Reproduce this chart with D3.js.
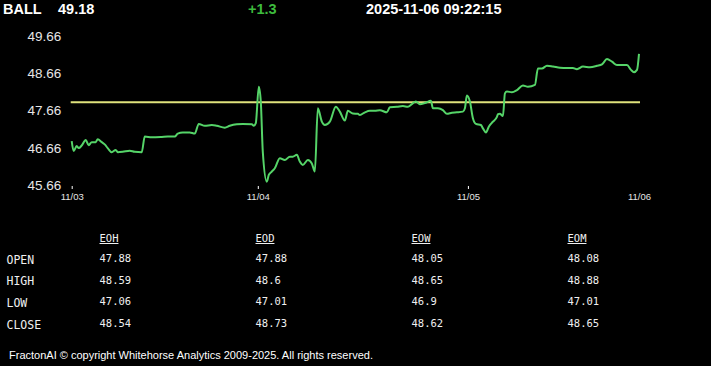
<!DOCTYPE html>
<html>
<head>
<meta charset="utf-8">
<script src="https://cdn.jsdelivr.net/npm/d3@7"></script>
<style>
  html, body { margin: 0; padding: 0; background: #000; }
  svg { display: block; }
</style>
</head>
<body>
<div id="chart"></div>
<script>
// quote header
var symbol = "BALL";
var lastPrice = "49.18";
var change = "+1.3";
var stamp = "2025-11-06 09:22:15";
var prevClose = 47.88;

// intraday trace (bar number from 11/03 open, price)
var barIdx = [0, 2, 5, 7, 10, 14, 17, 20, 24, 26, 30, 33, 36, 40, 44, 46, 51, 58, 63, 70,
  73, 80, 90, 96, 103, 106, 111, 118, 123, 127, 133, 140, 145, 153, 158, 165, 171, 180, 182, 184,
  187, 189, 191, 195, 197, 200, 203, 208, 213, 218, 221, 225, 228, 231, 236, 240, 243, 246, 250, 253,
  258, 264, 268, 273, 276, 281, 286, 288, 293, 298, 303, 308, 315, 318, 325, 331, 336, 340, 344, 348,
  353, 359, 361, 366, 371, 375, 380, 385, 391, 393, 395, 398, 401, 404, 409, 411, 414, 417, 421, 425,
  426, 428, 431, 433, 435, 440, 445, 451, 456, 463, 466, 470, 475, 481, 488, 495, 501, 505, 511, 518,
  525, 530, 535, 540, 545, 550, 555, 559, 562, 565, 567];
var prices = [46.84, 46.57, 46.71, 46.65, 46.72, 46.87, 46.73, 46.81, 46.81, 46.89, 46.81, 46.75, 46.65, 46.54, 46.60, 46.54, 46.55, 46.58, 46.55, 46.54,
  46.96, 46.94, 46.95, 46.96, 46.96, 47.04, 47.07, 47.07, 47.04, 47.30, 47.25, 47.27, 47.25, 47.20, 47.25, 47.29, 47.30, 47.29, 47.25, 47.32,
  48.30, 47.90, 46.55, 45.75, 45.93, 46.02, 46.11, 46.38, 46.33, 46.42, 46.42, 46.47, 46.29, 46.20, 46.33, 46.24, 46.02, 47.72, 47.36, 47.27,
  47.36, 47.76, 47.63, 47.39, 47.65, 47.58, 47.57, 47.54, 47.61, 47.65, 47.65, 47.67, 47.61, 47.75, 47.76, 47.78, 47.76, 47.83, 47.90, 47.83,
  47.86, 47.92, 47.72, 47.72, 47.67, 47.57, 47.60, 47.61, 47.63, 47.72, 48.06, 47.90, 47.45, 47.30, 47.27, 47.18, 47.07, 47.23, 47.36, 47.49,
  47.56, 47.57, 47.51, 48.12, 48.17, 48.15, 48.21, 48.33, 48.30, 48.35, 48.79, 48.79, 48.86, 48.84, 48.81, 48.80, 48.80, 48.77, 48.84, 48.82,
  48.86, 48.90, 49.04, 48.97, 48.88, 48.88, 48.88, 48.75, 48.69, 48.75, 49.18];

// axes
var dayTicks = [0, 186, 396, 567];
var dayLabels = ["11/03", "11/04", "11/05", "11/06"];
var priceTicks = [45.66, 46.66, 47.66, 48.66, 49.66];

// summary table
var periods = ["EOH", "EOD", "EOW", "EOM"];
var fields = ["OPEN", "HIGH", "LOW", "CLOSE"];
var eoh = [47.88, 48.59, 47.06, 48.54];
var eod = [47.88, 48.6, 47.01, 48.73];
var eow = [48.05, 48.65, 46.9, 48.62];
var eom = [48.08, 48.88, 47.01, 48.65];

var W = 711, H = 366;
var svg = d3.select("#chart").append("svg")
  .attr("width", W)
  .attr("height", H)
  .style("background", "#000");

// header line
var head = svg.append("g")
  .attr("font-family", "'Liberation Sans', Arial, sans-serif")
  .attr("font-weight", "bold")
  .attr("font-size", "14.5px");
head.append("text").attr("x", 3).attr("y", 14).attr("fill", "#fff").text(symbol);
head.append("text").attr("x", 58).attr("y", 14).attr("fill", "#fff").text(lastPrice);
head.append("text").attr("x", 248).attr("y", 14).attr("fill", "#3dbb3d").text(change);
head.append("text").attr("x", 366).attr("y", 14).attr("fill", "#fff").text(stamp);

// scales
var x = d3.scaleLinear().domain([0, 567]).range([71.7, 639]);
var y = d3.scaleLinear().domain([45.66, 49.66]).range([185, 36]);

var yAxis = d3.axisLeft(y).tickValues(priceTicks).tickSize(0).tickPadding(10.5)
  .tickFormat(d3.format(".2f"));
var gy = svg.append("g").attr("transform", "translate(71.7,0)").call(yAxis);
gy.select(".domain").remove();
gy.selectAll("text")
  .attr("fill", "#e6e6e6")
  .attr("font-family", "'Liberation Sans', Arial, sans-serif")
  .attr("font-size", "13.5px");

var xAxis = d3.axisBottom(x).tickValues(dayTicks).tickSize(3).tickPadding(4)
  .tickFormat((d, i) => dayLabels[i]);
var gx = svg.append("g").attr("transform", "translate(0,186)").call(xAxis);
gx.select(".domain").remove();
gx.selectAll("line").attr("stroke", "#fff");
gx.selectAll(".tick").filter((d, i) => i == dayTicks.length - 1).select("line").remove();
gx.selectAll("text")
  .attr("fill", "#e6e6e6")
  .attr("font-family", "'Liberation Sans', Arial, sans-serif")
  .attr("font-size", "9.5px");

// previous close reference
svg.append("line")
  .attr("x1", x(0) - 1)
  .attr("x2", x(567) + 1)
  .attr("y1", y(prevClose))
  .attr("y2", y(prevClose))
  .attr("stroke", "#dfe27c")
  .attr("stroke-width", 2);

// price line
var pts = barIdx.map((b, i) => [b, prices[i]]);
var line = d3.line()
  .x(d => x(d[0]))
  .y(d => y(d[1]))
  .curve(d3.curveMonotoneX);
svg.append("path")
  .datum(pts)
  .attr("fill", "none")
  .attr("stroke", "#55d468")
  .attr("stroke-width", 2)
  .attr("stroke-linejoin", "round")
  .attr("d", line);

// table
var colX = [99.5, 255.5, 411.5, 567.5];
var rowY = [263.5, 285, 306.5, 328.5];
var cols = [eoh, eod, eow, eom];
var tbl = svg.append("g")
  .attr("font-family", "'DejaVu Sans Mono', monospace")
  .attr("fill", "#f0f0f0");

periods.forEach(function (p, i) {
  var t = tbl.append("text").attr("x", colX[i]).attr("y", 242)
    .attr("font-size", "10.5px").text(p);
  var w = t.node().getComputedTextLength();
  tbl.append("line")
    .attr("x1", colX[i]).attr("x2", colX[i] + w)
    .attr("y1", 243.5).attr("y2", 243.5)
    .attr("stroke", "#f0f0f0").attr("stroke-width", 1);
});
fields.forEach(function (f, r) {
  tbl.append("text").attr("x", 6.5).attr("y", rowY[r])
    .attr("font-size", "11.5px").text(f);
  cols.forEach(function (c, i) {
    tbl.append("text").attr("x", colX[i]).attr("y", rowY[r] - 1.5)
      .attr("font-size", "10.5px").text(String(c[r]));
  });
});

// footer
svg.append("text")
  .attr("x", 9)
  .attr("y", 359)
  .attr("fill", "#fff")
  .attr("font-family", "'Liberation Sans', Arial, sans-serif")
  .attr("font-size", "11px")
  .text("FractonAI \u00a9 copyright Whitehorse Analytics 2009-2025. All rights reserved.");
</script>
</body>
</html>
